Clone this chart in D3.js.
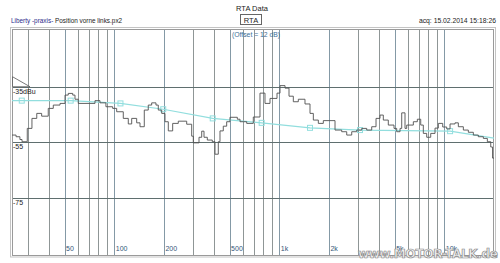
<!DOCTYPE html>
<html>
<head>
<meta charset="utf-8">
<script src="https://cdn.jsdelivr.net/npm/d3@7"></script>
<style>
  body { margin: 0; background: #fff; }
  svg { display: block; font-family: "Liberation Sans", Arial, sans-serif; }
</style>
</head>
<body>
<div id="chart"></div>
<script>
const W = 500;
const H = 263;

// measured spectrum, one step per band (start frequency in Hz, level in dBu)
const bandFreq = [24.0, 25.4, 26.8, 27.6, 29.7, 31.7, 33.9, 36.3, 39.8, 42.7, 46.9, 50.3, 52.6, 56.0, 57.8, 60.5,
  76.4, 81.9, 89.0, 97.8, 103.4, 113.4, 121.6, 127.5, 136.7, 143.2, 152.0, 160.7, 168.5, 178.9, 184.8, 193.8,
  202.9, 212.5, 225.9, 244.3, 274.7, 294.5, 301.2, 326.2, 338.7, 349.7, 366.2, 392.6, 407.7, 426.9, 437.1, 457.7,
  479.9, 502.5, 556.7, 578.0, 634.6, 695.8, 763.8, 819, 878.4, 968.5, 1010, 1083, 1145, 1216, 1304, 1431,
  1535, 1608, 1724, 1848, 2176, 2389, 2562, 2747, 2945, 3158, 3386, 3631, 3856, 4077, 4269, 4577,
  4956, 5146, 5389, 5518, 5778, 5917, 6489, 6862, 7194, 7460, 7822, 8272, 8783, 9196, 9779, 10340,
  10830, 11610, 12160, 13040, 13980, 14990, 16070, 17240, 18230, 19110, 19600];
const bandLevel = [-52.4, -53.0, -54.0, -54.8, -50.0, -46.4, -44.6, -45.6, -42.8, -41.6, -41.0, -38.0, -37.4, -38.0, -39.5, -41.0,
  -40.0, -40.8, -42.2, -42.8, -44.0, -46.4, -48.4, -46.4, -48.0, -49.4, -43.4, -41.6, -40.8, -41.6, -43.4, -44.6,
  -47.6, -50.9, -48.2, -47.4, -48.5, -52.8, -55.2, -53.2, -51.0, -53.2, -54.2, -54.8, -59.3, -54.8, -50.9, -49.2,
  -47.6, -46.0, -46.7, -47.6, -48.2, -45.9, -37.3, -41.0, -39.2, -37.3, -34.6, -35.5, -38.4, -40.4, -39.5, -41.2,
  -44.6, -47.0, -48.2, -47.2, -50.6, -51.2, -52.4, -51.2, -50.6, -50.0, -50.6, -49.4, -46.4, -45.2, -47.0, -48.8,
  -50.0, -51.2, -50.0, -44.4, -50.0, -48.8, -47.6, -46.7, -48.8, -51.8, -53.2, -51.8, -49.9, -48.2, -49.5, -50.2,
  -48.4, -48.0, -49.4, -50.6, -51.4, -52.4, -53.0, -53.6, -54.8, -56.7, -60.7];

// target curve (cyan), markers on the inner points
const targetFreq = [24, 27.5, 54.4, 109, 198, 395, 782, 1535, 3084, 10840, 20000];
const targetLevel = [-40.0, -40.0, -40.0, -41.0, -43.1, -46.4, -48.0, -49.8, -50.6, -51.0, -53.5];

const gridFreqs = [30, 40, 50, 60, 70, 80, 90, 100, 200, 300, 400, 500, 600, 700, 800, 900,
  1000, 2000, 3000, 4000, 5000, 6000, 7000, 8000, 9000, 10000];
const labelFreqs = [50, 100, 200, 500, 1000, 2000, 5000, 10000];
const labelText = ['50', '100', '200', '500', '1k', '2k', '5k', '10k'];
const gridLevels = [-35, -55, -75];
const levelText = ['-35dBu', '-55', '-75'];

const PLOT = { left: 12, right: 494, top: 29, bottom: 255 };

const x = d3.scaleLog().domain([24, 20000]).range([PLOT.left, PLOT.right]);
const y = d3.scaleLinear().domain([-14.2, -95.6]).range([PLOT.top, PLOT.bottom]);

const svg = d3.select('#chart').append('svg')
  .attr('width', W)
  .attr('height', H)
  .attr('viewBox', `0 0 ${W} ${H}`);

// header texts
svg.append('text').attr('x', 252).attr('y', 11).attr('text-anchor', 'middle')
  .attr('font-size', 7.5).attr('fill', '#222').text('RTA Data');
svg.append('rect').attr('x', 240.5).attr('y', 14.5).attr('width', 21).attr('height', 10)
  .attr('fill', 'none').attr('stroke', '#666');
svg.append('text').attr('x', 251).attr('y', 22.5).attr('text-anchor', 'middle')
  .attr('font-size', 7.5).attr('fill', '#222').text('RTA');
svg.append('text').attr('x', 11).attr('y', 22.5).attr('font-size', 6.4).attr('fill', '#2a2a8a')
  .text('Liberty -praxis-');
svg.append('text').attr('x', 55).attr('y', 22.5).attr('font-size', 6.4).attr('fill', '#222')
  .text('Position vorne links.px2');
svg.append('text').attr('x', 496).attr('y', 22.5).attr('text-anchor', 'end')
  .attr('font-size', 6.8).attr('fill', '#222').text('acq: 15.02.2014 15:18:26');

// frame
svg.append('rect').attr('x', 10.5).attr('y', 27.5).attr('width', 485).attr('height', 229.5)
  .attr('fill', 'none').attr('stroke', '#c4c4c4');
svg.append('rect').attr('x', PLOT.left + 0.5).attr('y', PLOT.top + 0.5)
  .attr('width', PLOT.right - PLOT.left - 1).attr('height', PLOT.bottom - PLOT.top)
  .attr('fill', '#fff').attr('stroke', '#9a9a9a');

const grid = svg.append('g').attr('class', 'grid');

grid.selectAll('line.v')
  .data(gridFreqs)
  .join('line')
  .attr('class', 'v')
  .attr('x1', (d) => Math.round(x(d)) + 0.5)
  .attr('x2', (d) => Math.round(x(d)) + 0.5)
  .attr('y1', PLOT.top + 1)
  .attr('y2', PLOT.bottom)
  .attr('stroke', (d) => (labelFreqs.includes(d) ? '#8499a6' : '#8f9696'))
  .attr('stroke-width', 1);

grid.selectAll('line.h')
  .data(gridLevels)
  .join('line')
  .attr('class', 'h')
  .attr('x1', PLOT.left + 1)
  .attr('x2', PLOT.right - 1)
  .attr('y1', (d) => Math.round(y(d)) + 0.5)
  .attr('y2', (d) => Math.round(y(d)) + 0.5)
  .attr('stroke', '#5f6f6f')
  .attr('stroke-width', 1);

grid.selectAll('text.fx')
  .data(labelFreqs)
  .join('text')
  .attr('class', 'fx')
  .attr('x', (d) => x(d) + 1.5)
  .attr('y', 251)
  .attr('font-size', 7)
  .attr('fill', '#34577a')
  .text((d, i) => labelText[i]);

grid.selectAll('text.ly')
  .data(gridLevels)
  .join('text')
  .attr('class', 'ly')
  .attr('x', 13)
  .attr('y', (d) => y(d) + 7)
  .attr('font-size', 7)
  .attr('fill', '#222')
  .text((d, i) => levelText[i]);

// offset marker triangle at the left edge
const ref = y(-35);
svg.append('path')
  .attr('d', `M${PLOT.left + 0.5},${ref - 10}L${PLOT.left + 18},${ref}L${PLOT.left + 0.5},${ref}Z`)
  .attr('fill', '#fff')
  .attr('stroke', '#555')
  .attr('stroke-width', 0.8);

svg.append('text').attr('x', 232).attr('y', 37).attr('font-size', 6.8).attr('fill', '#3d6f99')
  .text('(Offset = 12 dB)');

// target curve
const target = targetFreq.map((f, i) => [f, targetLevel[i]]);
svg.append('path')
  .datum(target)
  .attr('fill', 'none')
  .attr('stroke', '#92dede')
  .attr('stroke-width', 1.2)
  .attr('d', d3.line().x((d) => x(d[0])).y((d) => y(d[1])));

svg.selectAll('rect.mk')
  .data(target.slice(1, -1))
  .join('rect')
  .attr('class', 'mk')
  .attr('x', (d) => x(d[0]) - 2.5)
  .attr('y', (d) => y(d[1]) - 2.5)
  .attr('width', 5)
  .attr('height', 5)
  .attr('fill', 'none')
  .attr('stroke', '#92dede')
  .attr('stroke-width', 1);

// measured spectrum as a step line
const bands = bandFreq.map((f, i) => [f, bandLevel[i]]);
bands.push([20000, bandLevel[bandLevel.length - 1]]);
svg.append('path')
  .datum(bands)
  .attr('fill', 'none')
  .attr('stroke', '#505050')
  .attr('stroke-width', 0.9)
  .attr('d', d3.line().curve(d3.curveStepAfter).x((d) => x(d[0])).y((d) => y(d[1])));

// watermark (sits over the 5k / 10k labels, as in the original)
svg.append('text')
  .attr('x', 498).attr('y', 258).attr('text-anchor', 'end')
  .attr('font-family', '"DejaVu Sans", sans-serif')
  .attr('font-weight', 'bold')
  .attr('font-size', 12)
  .attr('textLength', 140)
  .attr('fill', '#f2f2f2')
  .attr('stroke', '#8a8a8a')
  .attr('stroke-width', 0.7)
  .text('www.MOTOR-TALK.de');
</script>
</body>
</html>
